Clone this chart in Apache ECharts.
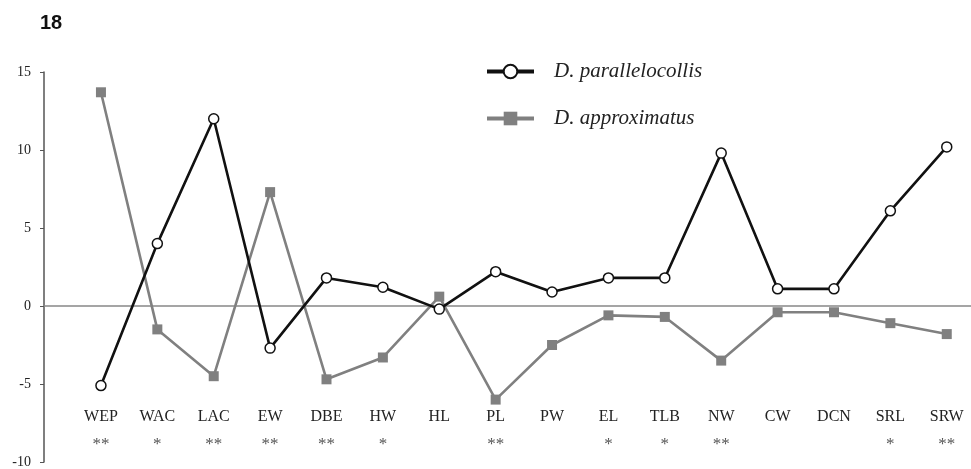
<!DOCTYPE html>
<html>
<head>
<meta charset="utf-8">
<script src="https://cdn.jsdelivr.net/npm/echarts@6/dist/echarts.min.js"></script>
<style>
  html, body { margin: 0; padding: 0; background: #fff; }
  #chart { width: 971px; height: 469px; }
</style>
</head>
<body>
<div id="chart"></div>
<script>
// Character codes along the x axis, with significance marks printed underneath
var categories = ['WEP', 'WAC', 'LAC', 'EW', 'DBE', 'HW', 'HL', 'PL', 'PW', 'EL', 'TLB', 'NW', 'CW', 'DCN', 'SRL', 'SRW'];
var significance = ['**', '*', '**', '**', '**', '*', '', '**', '', '*', '*', '**', '', '', '*', '**'];

// Values per species
var parallelocollis = [-5.1, 4.0, 12.0, -2.7, 1.8, 1.2, -0.2, 2.2, 0.9, 1.8, 1.8, 9.8, 1.1, 1.1, 6.1, 10.2];
var approximatus = [13.7, -1.5, -4.5, 7.3, -4.7, -3.3, 0.6, -6.0, -2.5, -0.6, -0.7, -3.5, -0.4, -0.4, -1.1, -1.8];

var yTicks = [-10, -5, 0, 5, 10, 15];

var serif = '"Liberation Serif", "DejaVu Serif", serif';

function pairs(values) {
  return values.map(function (v, i) { return [i, v]; });
}

var chart = echarts.init(document.getElementById('chart'), null, { renderer: 'canvas' });

chart.setOption({
  animation: false,
  backgroundColor: '#ffffff',
  title: {
    text: '18',
    left: 35,
    top: 8,
    textStyle: {
      fontFamily: '"Liberation Sans", Arial, sans-serif',
      fontWeight: 'bold',
      fontSize: 20,
      color: '#111'
    }
  },
  legend: {
    orient: 'vertical',
    left: 480,
    top: 56,
    itemWidth: 47,
    itemHeight: 17,
    itemGap: 26,
    data: ['D. parallelocollis', 'D. approximatus'],
    lineStyle: { width: 4 },
    textStyle: {
      fontFamily: serif,
      fontStyle: 'italic',
      fontSize: 21,
      color: '#222',
      padding: [0, 0, 0, 15]
    }
  },
  grid: {
    left: 44,
    right: 0,
    top: 72,
    bottom: 7,
    containLabel: false,
    outerBoundsMode: 'none'
  },
  xAxis: {
    type: 'value',
    min: -1.01,
    max: 15.43,
    axisLine: {
      onZero: true,
      lineStyle: { color: '#888', width: 1.5 }
    },
    axisTick: { show: false },
    splitLine: { show: false },
    axisLabel: {
      customValues: categories.map(function (c, i) { return i; }),
      margin: -55,
      formatter: function (v) {
        var name = categories[v];
        var mark = significance[v];
        return '{a|' + name + '}' + (mark ? '\n{b|' + mark + '}' : '');
      },
      rich: {
        a: { fontFamily: serif, fontSize: 16, color: '#222', lineHeight: 20 },
        b: { fontFamily: serif, fontSize: 17, color: '#555', lineHeight: 36 }
      }
    }
  },
  yAxis: {
    type: 'value',
    min: -10,
    max: 15,
    interval: 5,
    axisLine: { show: true, onZero: false, lineStyle: { color: '#555', width: 1.5 } },
    axisTick: { show: true, inside: false, length: 4, lineStyle: { color: '#555' } },
    splitLine: { show: false },
    axisLabel: {
      margin: 13,
      fontFamily: serif,
      fontSize: 14,
      color: '#222',
      customValues: yTicks
    }
  },
  series: [
    {
      name: 'D. parallelocollis',
      type: 'line',
      z: 3,
      data: pairs(parallelocollis),
      symbol: 'circle',
      symbolSize: 10,
      lineStyle: { color: '#111', width: 2.6 },
      itemStyle: { color: '#ffffff', borderColor: '#111', borderWidth: 1.5 }
    },
    {
      name: 'D. approximatus',
      type: 'line',
      z: 2,
      data: pairs(approximatus),
      symbol: 'rect',
      symbolSize: 10,
      lineStyle: { color: '#808080', width: 2.6 },
      itemStyle: { color: '#808080' }
    }
  ]
});
</script>
</body>
</html>
